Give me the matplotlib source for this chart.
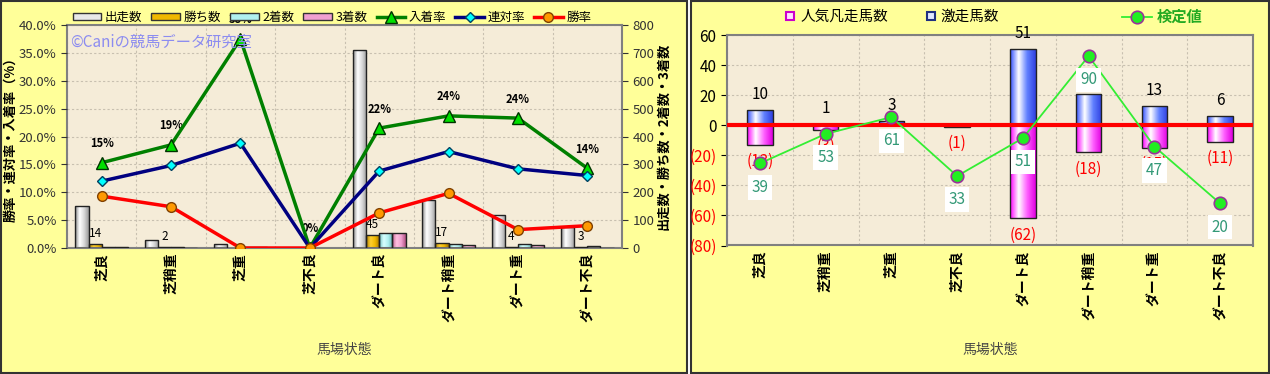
import numpy as np
import matplotlib
matplotlib.use("Agg")
import matplotlib.pyplot as plt
from matplotlib.colors import LinearSegmentedColormap
from matplotlib.patches import Rectangle, Patch
from matplotlib.lines import Line2D

plt.rcParams['font.family'] = ['Noto Sans CJK JP', 'DejaVu Sans']

# ---- data ----
categories = ["芝良", "芝稍重", "芝重", "芝不良", "ダート良", "ダート稍重", "ダート重", "ダート不良"]

starts = [150, 27, 16, 0, 710, 173, 120, 75]      # 出走数
wins = [14, 2, 0, 0, 45, 17, 4, 3]                # 勝ち数
seconds = [4, 2, 3, 0, 53, 13, 13, 7]             # 2着数
thirds = [5, 1, 3, 0, 55, 11, 11, 1]              # 3着数

place_rate = [15.3, 18.5, 37.5, 0.0, 21.5, 23.7, 23.3, 14.3]   # 入着率
quin_rate = [12.0, 14.8, 18.8, 0.0, 13.8, 17.3, 14.2, 13.0]    # 連対率
win_rate = [9.3, 7.4, 0.0, 0.0, 6.3, 9.8, 3.3, 4.0]            # 勝率
place_lbl = ["15%", "19%", "38%", "0%", "22%", "24%", "24%", "14%"]

gekisou = [10, 1, 3, 0, 51, 21, 13, 6]            # 激走馬数
bonsou = [13, 3, 0, 1, 62, 18, 15, 11]            # 人気凡走馬数
kentei = [39, 53, 61, 33, 51, 90, 47, 20]         # 検定値

W, H = 1270, 374
fig = plt.figure(figsize=(W / 100, H / 100), dpi=100, facecolor='white')

def px(x0, y0, x1, y1):
    return [x0 / W, 1 - y1 / H, (x1 - x0) / W, (y1 - y0) / H]

fig.patches.append(Rectangle((1 / W, 1 / H), 686 / W, 1 - 2 / H, transform=fig.transFigure,
                             facecolor='#FFFF99', edgecolor='#333333', lw=1.5, zorder=-10))
fig.patches.append(Rectangle((691 / W, 1 / H), 1 - 692 / W, 1 - 2 / H, transform=fig.transFigure,
                             facecolor='#FFFF99', edgecolor='#333333', lw=1.5, zorder=-10))

def grad_bars(ax, bars, cols, edge='#222222'):
    cmap = LinearSegmentedColormap.from_list('g', cols)
    g = np.linspace(0, 1, 64).reshape(1, -1)
    for b in bars:
        x, y, w, h = b.get_x(), b.get_y(), b.get_width(), b.get_height()
        if h == 0:
            continue
        im = ax.imshow(g, extent=[x, x + w, y, y + h], aspect='auto', cmap=cmap,
                       interpolation='bilinear', zorder=2)
        im.set_clip_path(b)
        b.set_facecolor('none')
        b.set_edgecolor(edge)
        b.set_linewidth(1)
        b.set_zorder(3)

def style_grid(ax):
    ax.set_facecolor('#F5ECD8')
    ax.set_xticks(np.arange(-0.5, 8, 1), minor=True)
    ax.grid(True, which='minor', axis='x', color='#C8C0B0', ls=(0, (2, 2)), lw=0.8)
    ax.grid(True, which='major', axis='y', color='#C8C0B0', ls=(0, (2, 2)), lw=0.8)
    ax.tick_params(axis='x', which='both', length=0)
    for s in ax.spines.values():
        s.set_color('#808080')
        s.set_linewidth(1.5)

# ---- left chart ----
ax = fig.add_axes(px(67, 25, 622, 248))
ax2 = ax.twinx()
style_grid(ax)
x = np.arange(len(categories))
bw = 0.19
b1 = ax.bar(x - 1.5 * bw, starts, bw)
b2 = ax.bar(x - 0.5 * bw, wins, bw)
b3 = ax.bar(x + 0.5 * bw, seconds, bw)
b4 = ax.bar(x + 1.5 * bw, thirds, bw)
grad_bars(ax, b1, ['#8a8a8a', '#ffffff', '#d8d8d8', '#9a9a9a'])
grad_bars(ax, b2, ['#b08000', '#ffd030', '#f0b800', '#a07000'])
grad_bars(ax, b3, ['#70c0c0', '#d8ffff', '#b0f0f0', '#60b0b0'])
grad_bars(ax, b4, ['#c06090', '#ffc0e0', '#f0a0d0', '#b05080'])
for i, v in enumerate(wins):
    if v > 0:
        ax.annotate(str(v), (x[i] - 0.5 * bw, v), xytext=(0, 3), textcoords='offset points',
                    ha='center', va='bottom', fontsize=8.5, zorder=6)
ax.set_xlim(-0.5, 7.5)
ax.set_ylim(0, 800)
ax.set_yticks(range(0, 801, 100))
ax.yaxis.tick_right()
ax.yaxis.set_label_position('right')
ax.tick_params(axis='y', labelsize=9.5, length=4, colors='#333333', labelcolor='#333333')
ax.set_ylabel('出走数・勝ち数・2着数・3着数', fontsize=9.5, fontweight='bold')
ax.yaxis.set_label_coords((656 - 67) / 555, 0.5)
ax.set_xticks(x)
ax.set_xticklabels(categories, rotation=90, fontsize=10, fontweight='bold')
ax.set_xlabel('馬場状態', fontsize=10, color='#444444', labelpad=15)

ax2.yaxis.tick_left()
ax2.yaxis.set_label_position('left')
l1, = ax2.plot(x, place_rate, color='#008000', lw=2.5, marker='^', ms=8,
               mfc='#00E000', mec='#003300', mew=1, zorder=5)
l2, = ax2.plot(x, quin_rate, color='#000080', lw=2.5, marker='D', ms=5.5,
               mfc='#00FFFF', mec='#004060', mew=1, zorder=5)
l3, = ax2.plot(x, win_rate, color='#FF0000', lw=2.5, marker='o', ms=7,
               mfc='#FF9900', mec='#804000', mew=1, zorder=5)
for i, t in enumerate(place_lbl):
    ax2.annotate(t, (x[i], place_rate[i]), xytext=(0, 9), textcoords='offset points',
                 ha='center', va='bottom', fontsize=8, fontweight='bold')
ax2.set_ylim(0, 40)
ax2.set_yticks(range(0, 41, 5))
ax2.set_yticklabels([f'{v:.1f}%' for v in range(0, 41, 5)])
ax2.tick_params(axis='y', labelsize=9.5, length=4, colors='#333333', labelcolor='#333333')
ax2.set_ylabel('勝率・連対率・入着率（%）', fontsize=9.5, fontweight='bold')
ax2.yaxis.set_label_coords((17 - 67) / 555, 0.5)
for s in ax2.spines.values():
    s.set_visible(False)

fig.text(70 / W, 1 - 42 / H, '©Caniの競馬データ研究室', color='#8C8CF0', fontsize=11, va='center')

hand = [Patch(fc='#e8e8e8', ec='#333333'), Patch(fc='#f0b800', ec='#333333'),
        Patch(fc='#b0f0f0', ec='#333333'), Patch(fc='#f0a0d0', ec='#333333'), l1, l2, l3]
labs = ['出走数', '勝ち数', '2着数', '3着数', '入着率', '連対率', '勝率']
fig.legend(hand, labs, loc='center', bbox_to_anchor=(332 / W, 1 - 17 / H), ncol=7,
           frameon=False, fontsize=9, handlelength=2.3, handleheight=0.5,
           columnspacing=0.7, handletextpad=0.3)

# ---- right chart ----
bx = fig.add_axes(px(727, 35, 1253, 245.5))
style_grid(bx)
bw2 = 0.39
neg = [-v for v in bonsou]
p1 = bx.bar(x, gekisou, bw2)
p2 = bx.bar(x, neg, bw2)
grad_bars(bx, p1, ['#3050ff', '#ffffff', '#6080ff', '#3040e0'])
grad_bars(bx, p2, ['#ff00ff', '#ffffff', '#ff60ff', '#e000e0'])
bx.axhline(0, color='#FF0000', lw=3, zorder=4)
for i in range(len(categories)):
    if gekisou[i] > 0:
        bx.annotate(str(gekisou[i]), (x[i], gekisou[i]), xytext=(0, 5), textcoords='offset points',
                    ha='center', va='bottom', fontsize=11, zorder=6)
    if bonsou[i] > 0:
        bx.annotate(f'({bonsou[i]})', (x[i], neg[i]), xytext=(0, -6), textcoords='offset points',
                    ha='center', va='top', fontsize=11, color='#FF0000', zorder=6)
bx.set_xlim(-0.5, 7.5)
bx.set_ylim(-80, 60)
yt = list(range(-80, 61, 20))
bx.set_yticks(yt)
bx.set_yticklabels([str(v) if v >= 0 else f'({-v})' for v in yt])
for t, v in zip(bx.get_yticklabels(), yt):
    t.set_color('#FF0000' if v < 0 else '#000000')
bx.tick_params(axis='y', labelsize=11, length=4)
bx.set_xticks(x)
bx.set_xticklabels(categories, rotation=90, fontsize=10, fontweight='bold')
bx.set_xlabel('馬場状態', fontsize=10, color='#444444', labelpad=17)

bx2 = bx.twinx()
bx2.set_ylim(0, 100)
bx2.axis('off')
k1, = bx2.plot(x, kentei, color='#33EE33', lw=1.3, marker='o', ms=9,
               mfc='#22EE22', mec='#993399', mew=1.2, zorder=5)
for i, v in enumerate(kentei):
    bx2.annotate(str(v), (x[i], v), xytext=(0, -11), textcoords='offset points',
                 ha='center', va='top', fontsize=11, color='#339977', zorder=7,
                 bbox=dict(boxstyle='square,pad=0.25', fc='white', ec='none'))

h1 = Line2D([], [], ls='none', marker='s', ms=6, mfc='#ffe0ff', mec='#cc00cc', mew=1.5)
h2 = Line2D([], [], ls='none', marker='s', ms=6, mfc='#e0e8ff', mec='#203080', mew=1.5)
fig.legend([h1, h2], ['人気凡走馬数', '激走馬数'], loc='center', bbox_to_anchor=(892 / W, 1 - 17 / H),
           ncol=2, frameon=False, fontsize=10.5, handlelength=0.8, handletextpad=0.3,
           columnspacing=2.5)
leg = fig.legend([k1], ['検定値'], loc='center', bbox_to_anchor=(1162 / W, 1 - 17 / H),
                 frameon=False, fontsize=11, handlelength=2.0, handletextpad=0.3)
for t in leg.get_texts():
    t.set_color('#22AA22')
    t.set_fontweight('bold')

fig.savefig('out.png', dpi=100, facecolor=fig.get_facecolor())
